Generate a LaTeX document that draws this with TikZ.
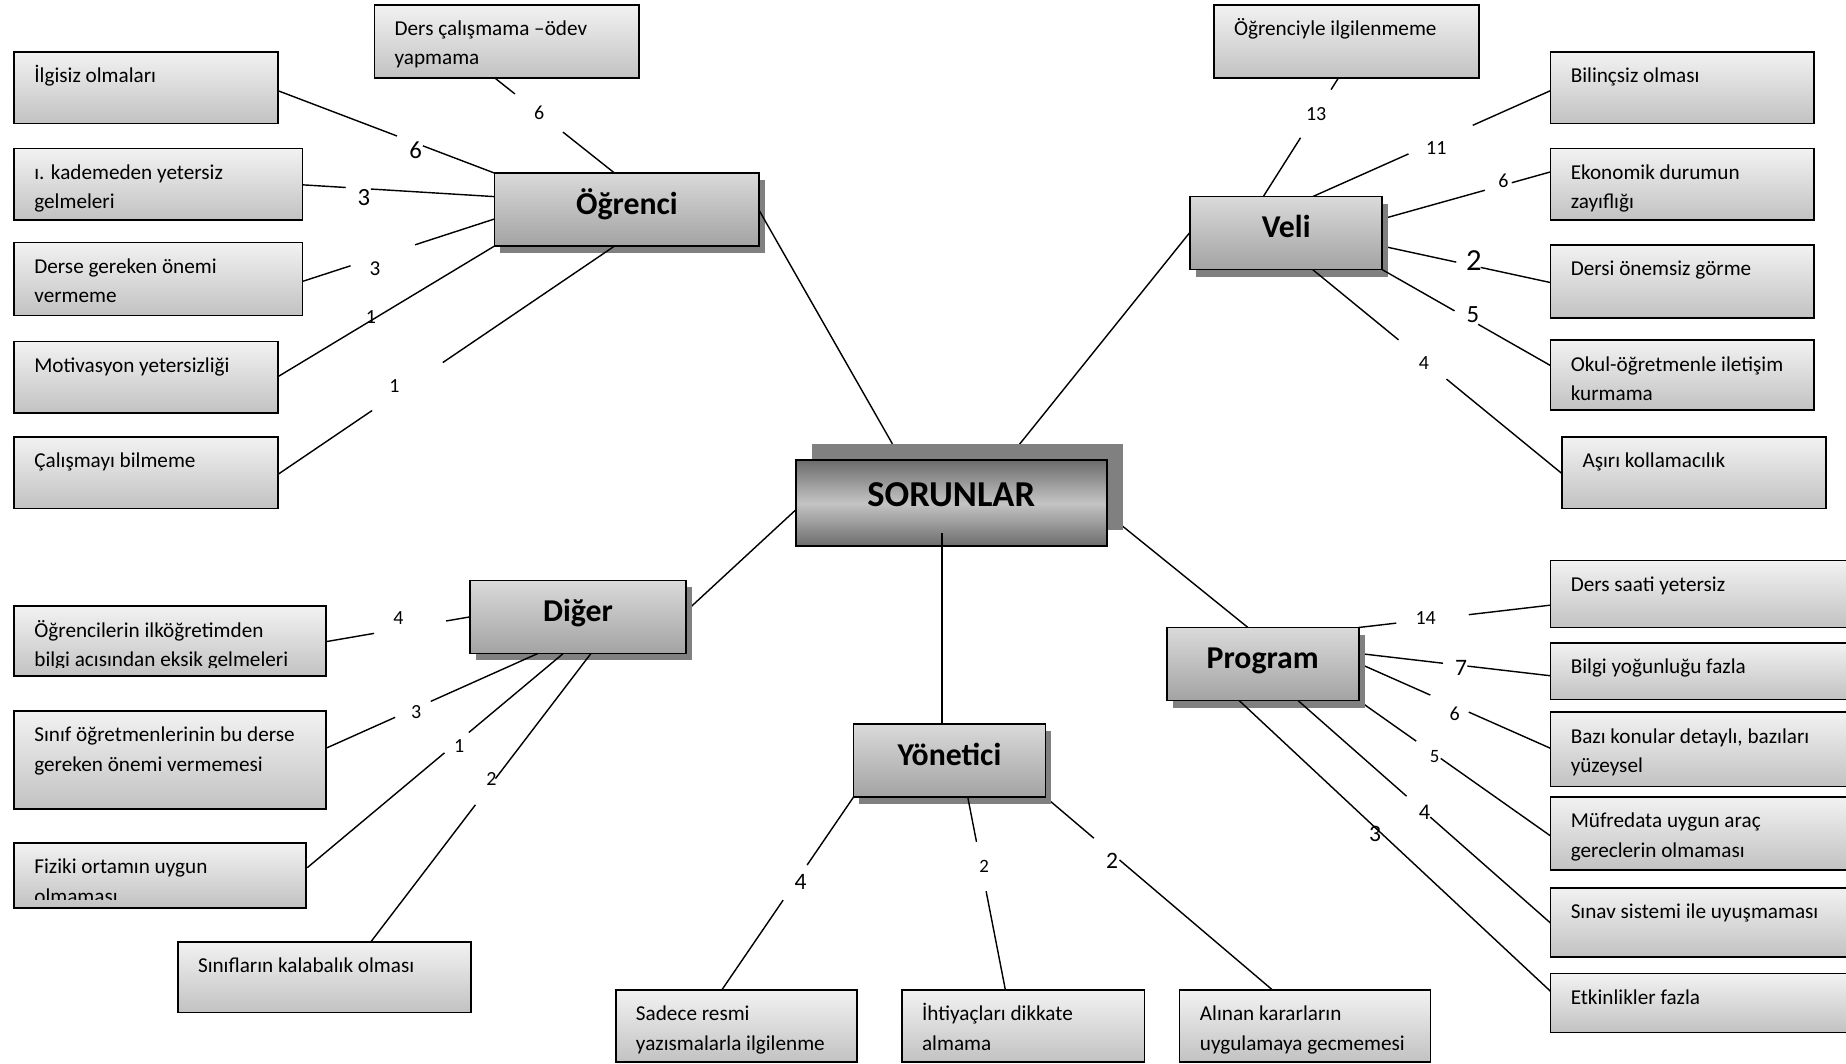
\documentclass[tikz,border=0pt]{standalone}
\usepackage{fontspec}
\setmainfont{Carlito}
\usetikzlibrary{calc,shadows,backgrounds}
\definecolor{sbt}{HTML}{F2F2F2}
\definecolor{sbb}{HTML}{C2C2C2}
\definecolor{mbt}{HTML}{DADADA}
\definecolor{mbb}{HTML}{A3A3A3}
\definecolor{sot}{HTML}{6C6C6C}
\definecolor{som}{HTML}{C4C4C4}
\definecolor{shd}{HTML}{808080}
\newcommand{\tbox}[6]{%
  \node[smallbox, minimum width={#4-#2}, minimum height={#5-#3}] (#1) at (#2,#3) {};
  \begin{scope}\clip (#2,#3) rectangle (#4,#5-7);
    \node[boxtext] at (#2+17,#3+8) {\rule{0pt}{18pt}#6};
  \end{scope}}
\newcommand{\conn}[4]{\draw[conn] (#1) -- ($(#1)!#3!(#2)$) ($(#1)!#4!(#2)$) -- (#2);}
\begin{document}
\begin{tikzpicture}[x=1pt,y=-1pt,
  smallbox/.style={anchor=north west, inner sep=0pt, outer sep=0pt, draw=black, line width=1.4pt, top color=sbt, bottom color=sbb},
  boxtext/.style={anchor=north west, inner sep=0pt, align=left, font=\fontsize{18}{25}\selectfont},
  mainbox/.style={anchor=north west, inner sep=0pt, outer sep=0pt, draw=black, line width=1.5pt, top color=mbt, bottom color=mbb,
    font=\bfseries\fontsize{27}{30}\selectfont, text height=20pt, text depth=12pt,
    drop shadow={shadow xshift=5pt, shadow yshift=-6pt, fill=shd, opacity=1}},
  sorbox/.style={anchor=north west, inner sep=0pt, outer sep=0pt, draw=black, line width=1.8pt, top color=sot, bottom color=sot, middle color=som,
    font=\bfseries\fontsize{31}{34}\selectfont, text height=22pt, text depth=16pt,
    drop shadow={shadow xshift=14pt, shadow yshift=14pt, fill=shd, opacity=1}},
  conn/.style={line width=1.2pt, black},
  lab/.style={inner sep=0pt, font=\fontsize{#1}{#1}\selectfont},
  lab/.default=17]
\useasboundingbox (0,0) rectangle (1568,903);

% ---- Ogrenci group boxes
\tbox{dcm}{318}{4}{543}{66}{Ders çalışmama –ödev\\yapmama}
\tbox{ilg}{12}{44}{236}{105}{İlgisiz olmaları}
\tbox{kad}{12}{126}{257}{187}{ı. kademeden yetersiz\\gelmeleri}
\tbox{der}{12}{206}{257}{268}{Derse gereken önemi\\vermeme}
\tbox{mot}{12}{290}{236}{351}{Motivasyon yetersizliği}
\tbox{cal}{12}{371}{236}{432}{Çalışmayı bilmeme}
% ---- Veli group boxes
\tbox{ogi}{1031}{4}{1256}{66}{Öğrenciyle ilgilenmeme}
\tbox{bil}{1317}{44}{1541}{105}{Bilinçsiz olması}
\tbox{eko}{1317}{126}{1541}{187}{Ekonomik durumun\\zayıflığı}
\tbox{dor}{1317}{208}{1541}{270}{Dersi önemsiz görme}
\tbox{oku}{1317}{289}{1541}{348}{Okul-öğretmenle iletişim\\kurmama}
\tbox{asi}{1327}{371}{1551}{432}{Aşırı kollamacılık}
% ---- Diger group boxes
\tbox{oil}{12}{515}{277}{574}{Öğrencilerin ilköğretimden\\bilgi acısından eksik gelmeleri}
\tbox{sin}{12}{604}{277}{687}{Sınıf öğretmenlerinin bu derse\\gereken önemi vermemesi}
\tbox{fiz}{12}{716}{260}{771}{Fiziki ortamın uygun\\olmaması}
\tbox{kal}{151}{800}{400}{860}{Sınıfların kalabalık olması}
% ---- Yonetici group boxes
\tbox{sad}{523}{841}{728}{902}{Sadece resmi\\yazısmalarla ilgilenme}
\tbox{iht}{766}{841}{972}{902}{İhtiyaçları dikkate\\almama}
\tbox{alk}{1002}{841}{1215}{902}{Alınan kararların\\uygulamaya gecmemesi}
% ---- Program group boxes
\tbox{dsy}{1317}{476}{1580}{533}{Ders saati yetersiz}
\tbox{byf}{1317}{546}{1580}{594}{Bilgi yoğunluğu fazla}
\tbox{bkd}{1317}{605}{1580}{668}{Bazı konular detaylı, bazıları\\yüzeysel}
\tbox{muf}{1317}{677}{1580}{739}{Müfredata uygun araç\\gereclerin olmaması}
\tbox{snv}{1317}{754}{1580}{813}{Sınav sistemi ile uyuşmaması}
\tbox{etk}{1317}{827}{1580}{877}{Etkinlikler fazla}

% ---- main nodes
\node[mainbox, minimum width=225, minimum height=62] (ogr) at (420,147) {Öğrenci};
\node[mainbox, minimum width=163, minimum height=62] (veli) at (1011,167) {Veli};
\node[mainbox, minimum width=184, minimum height=62] (dig) at (399,493) {Diğer};
\node[mainbox, minimum width=163, minimum height=62] (yon) at (725,615) {Yönetici};
\node[mainbox, minimum width=163, minimum height=62] (prg) at (991,533) {Program};
\node[sorbox, minimum width=264, minimum height=73] (sor) at (676,391) {SORUNLAR};

% ---- connector end points
\coordinate (c1a) at ($(dcm.north west)+(102,62)$);
\coordinate (c1b) at ($(ogr.north west)+(102,0)$);
\coordinate (c2a) at ($(ilg.north west)+(224,33)$);
\coordinate (c3a) at ($(kad.north west)+(245,31)$);
\coordinate (c3b) at ($(ogr.north west)+(0,20)$);
\coordinate (c4a) at ($(der.north west)+(245,33)$);
\coordinate (c4b) at ($(ogr.north west)+(0,39)$);
\coordinate (c5a) at ($(mot.north west)+(224,30)$);
\coordinate (c6a) at ($(cal.north west)+(224,32)$);
\coordinate (c6b) at ($(ogr.north west)+(102,62)$);
\coordinate (c7a) at ($(ogr.north west)+(225,32)$);
\coordinate (c7b) at ($(sor.north west)+(82,-14)$);
\coordinate (v1a) at ($(ogi.north west)+(106,62)$);
\coordinate (v1b) at ($(veli.north west)+(62,0)$);
\coordinate (v2a) at ($(bil.north west)+(0,33)$);
\coordinate (v2b) at ($(veli.north west)+(104,0)$);
\coordinate (v3a) at ($(eko.north west)+(0,20)$);
\coordinate (v3b) at ($(veli.north west)+(163,19)$);
\coordinate (v4a) at ($(dor.north west)+(0,32)$);
\coordinate (v4b) at ($(veli.north west)+(163,42)$);
\coordinate (v5a) at ($(oku.north west)+(0,21.5)$);
\coordinate (v6a) at ($(asi.north west)+(0,31.5)$);
\coordinate (v6b) at ($(veli.north west)+(104,62)$);
\coordinate (v7a) at ($(veli.north west)+(0,30)$);
\coordinate (v7b) at ($(sor.north west)+(179,0)$);
\coordinate (d1a) at ($(oil.north west)+(265,30)$);
\coordinate (d1b) at ($(dig.north west)+(0,31)$);
\coordinate (d2a) at ($(sin.north west)+(265,31.5)$);
\coordinate (d2b) at ($(dig.north west)+(58,62)$);
\coordinate (d3a) at ($(fiz.north west)+(249,21)$);
\coordinate (d3b) at ($(dig.north west)+(79.5,62)$);
\coordinate (d4a) at ($(kal.north west)+(164,0)$);
\coordinate (d4b) at ($(dig.north west)+(103,62)$);
\coordinate (d5a) at ($(dig.north west)+(184,26)$);
\coordinate (d5b) at ($(sor.north west)+(0,42)$);
\coordinate (y1a) at ($(sor.north west)+(124,62)$);
\coordinate (y1b) at ($(yon.north west)+(75,0)$);
\coordinate (y2a) at ($(sad.north west)+(90,0)$);
\coordinate (y3a) at ($(iht.north west)+(88,0)$);
\coordinate (y3b) at ($(yon.north west)+(97,62)$);
\coordinate (y4a) at ($(alk.north west)+(79,0)$);
\coordinate (p1a) at ($(sor.north west)+(264,45)$);
\coordinate (p1b) at ($(prg.north west)+(69,0)$);
\coordinate (p2a) at ($(dsy.north west)+(0,38)$);
\coordinate (p3a) at ($(byf.north west)+(0,28)$);
\coordinate (p3b) at ($(prg.north west)+(163,22)$);
\coordinate (p4a) at ($(bkd.north west)+(0,30.6)$);
\coordinate (p4b) at ($(prg.north west)+(163,30.4)$);
\coordinate (p5a) at ($(muf.north west)+(0,33)$);
\coordinate (p6a) at ($(snv.north west)+(0,30)$);
\coordinate (p6b) at ($(prg.north west)+(111.5,62)$);
\coordinate (p7a) at ($(etk.north west)+(0,15)$);
\coordinate (p7b) at ($(prg.north west)+(61.5,62)$);

% ---- connectors behind the boxes and shadows
\begin{pgfonlayer}{background}
\fill[white] (0,0) rectangle (1568,903);
\conn{c1a}{c1b}{0.17}{0.57}
\conn{c2a}{ogr.north west}{0.55}{0.67}
\conn{c3a}{c3b}{0.225}{0.356}
\conn{c4a}{c4b}{0.25}{0.586}
\draw[conn] (c5a) -- (ogr.south west);
\conn{v1a}{v1b}{0.1}{0.505}
\conn{v2a}{v2b}{0.327}{0.597}
\conn{v3a}{v3b}{0.23}{0.39}
\conn{v4a}{v4b}{0.415}{0.56}
\draw[conn] (v7a) -- (v7b);
\conn{d1a}{d1b}{0.334}{0.836}
\draw[conn] (d5a) -- (d5b);
\conn{y2a}{yon.south west}{0.466}{0.648}
\conn{y4a}{yon.south east}{0.674}{0.787}
\draw[conn] (p1a) -- (p1b);
\conn{p2a}{prg.north east}{0.426}{0.804}
\conn{p3a}{p3b}{0.433}{0.56}
\conn{p4a}{p4b}{0.426}{0.626}
\conn{p5a}{prg.south east}{0.572}{0.7}
\end{pgfonlayer}

% ---- connectors that run over the shadows
\conn{c6a}{c6b}{0.28}{0.49}
\draw[conn] (c7a) -- (c7b);
\conn{v5a}{veli.south east}{0.43}{0.57}
\conn{v6a}{v6b}{0.464}{0.656}
\conn{d2a}{d2b}{0.326}{0.494}
\conn{d3a}{d3b}{0.536}{0.631}
\conn{d4a}{d4b}{0.475}{0.566}
\draw[conn] (y1a) -- (y1b);
\conn{y3a}{y3b}{0.512}{0.768}
\conn{p6a}{p6b}{0.476}{0.57}
\draw[conn] (p7a) -- (p7b);

% ---- labels
\node[lab] (l1) at (458,96) {6};
\node[lab=21] (l2) at (353,128) {6};
\node[lab=21] (l3) at (309,168) {3};
\node[lab=18] (l4) at (318.5,228.5) {3};
\node[lab] (l5) at (315,269) {1};
\node[lab] (l6) at (335,328) {1};
\node[lab] (l7) at (1118,97) {13};
\node[lab] (l8) at (1220,126) {11};
\node[lab] (l9) at (1277,153.5) {6};
\node[lab=26] (l10) at (1252,221) {2};
\node[lab=21] (l11) at (1251,267) {5};
\node[lab] (l12) at (1209.5,308.5) {4};
\node[lab] (l13) at (338.5,525) {4};
\node[lab] (l14) at (353.5,605) {3};
\node[lab] (l15) at (390,634) {1};
\node[lab] (l16) at (417.5,662) {2};
\node[lab=20] (l17) at (680,748.7) {4};
\node[lab=16] (l18) at (836,735.5) {2};
\node[lab=20] (l19) at (944.6,731) {2};
\node[lab] (l20) at (1211,525) {14};
\node[lab=20] (l21) at (1241,567) {7};
\node[lab] (l22) at (1235.7,606) {6};
\node[lab=16] (l23) at (1218.5,643) {5};
\node[lab=19] (l24) at (1210,690) {4};
\node[lab=20] (l25) at (1168,708.6) {3};
\end{tikzpicture}
\end{document}
